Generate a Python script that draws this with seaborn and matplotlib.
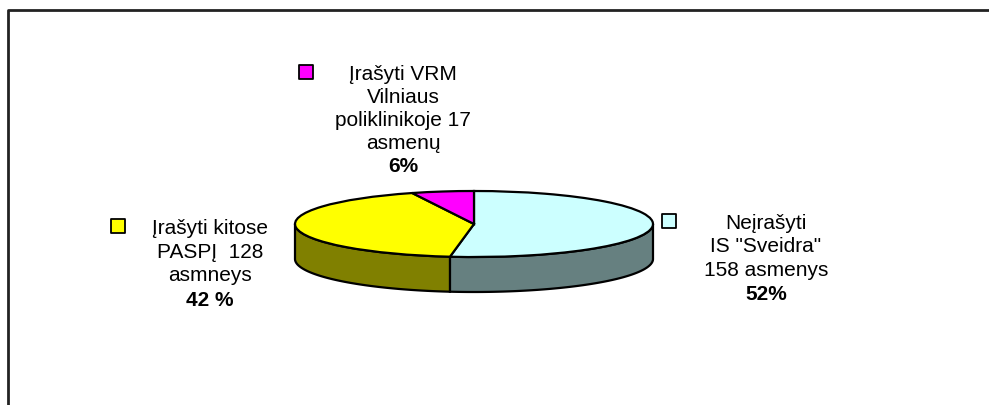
import numpy as np
import matplotlib.pyplot as plt
import seaborn as sns

# slices, in drawing order (clockwise from 12 o'clock)
slice_labels = [
    "Neįrašyti\nIS \"Sveidra\"\n158 asmenys",
    "Įrašyti kitose\nPASPĮ  128\nasmneys",
    "Įrašyti VRM\nVilniaus\npoliklinikoje 17\nasmenų",
]
counts = [158, 128, 17]
pct_labels = ["52%", "42 %", "6%"]
top_colors = ["#CCFFFF", "#FFFF00", "#FF00FF"]
side_colors = ["#668080", "#808000", "#800080"]

sns.set_theme(style="white")
plt.rcParams["font.family"] = ["Liberation Sans", "DejaVu Sans"]
plt.rcParams["text.color"] = "black"

fig = plt.figure(figsize=(9.89, 4.05), dpi=100)

# background axes in pixel units: frame + labels
bg = fig.add_axes([0, 0, 1, 1])
bg.set_xlim(0, 989)
bg.set_ylim(405, 0)
bg.axis("off")
bg.plot([8, 8, 989], [405, 10, 10], color="#222222", lw=2)

# 3D-looking pie: flatten a normal pie by letting the axes aspect go free
depth = 1.06
ax = fig.add_axes([295 / 989, 1 - 292 / 405, 358 / 989, 101 / 405])
wedges, _ = ax.pie(counts, startangle=90, counterclock=False, colors=top_colors,
                   wedgeprops=dict(edgecolor="black", linewidth=1.6))
ax.set_aspect("auto")
ax.set_xlim(-1, 1)
ax.set_ylim(-1 - depth, 1)
ax.axis("off")

for w, c in zip(wedges, side_colors):
    w.set_clip_on(False)
    w.set_zorder(3)
    # only the front half (180..360 deg) of the rim is visible
    for off in (-360, 0, 360):
        lo = max(w.theta1 + off, -180)
        hi = min(w.theta2 + off, 0)
        if hi > lo:
            t = np.radians(np.linspace(lo, hi, 150))
            x, y = np.cos(t), np.sin(t)
            ax.fill(np.r_[x, x[::-1]], np.r_[y, y[::-1] - depth],
                    facecolor=c, edgecolor="black", lw=1.6, zorder=2, clip_on=False)

# label blocks: (key x, key y, text centre x, text mid y, pct y)
label_pos = [
    (669, 221, 766, 247, 295),
    (118, 226, 210, 252, 300),
    (306, 72, 403, 109, 166),
]
for (kx, ky, tx, ty, py), lab, pct, col in zip(label_pos, slice_labels, pct_labels, top_colors):
    bg.scatter([kx], [ky], marker="s", s=110, color=col, edgecolor="black", linewidth=1.3)
    bg.text(tx, ty, lab, ha="center", va="center", fontsize=15, linespacing=1.28)
    bg.text(tx, py, pct, ha="center", va="center", fontsize=15, fontweight="bold")

fig.savefig("out.png", dpi=100)
